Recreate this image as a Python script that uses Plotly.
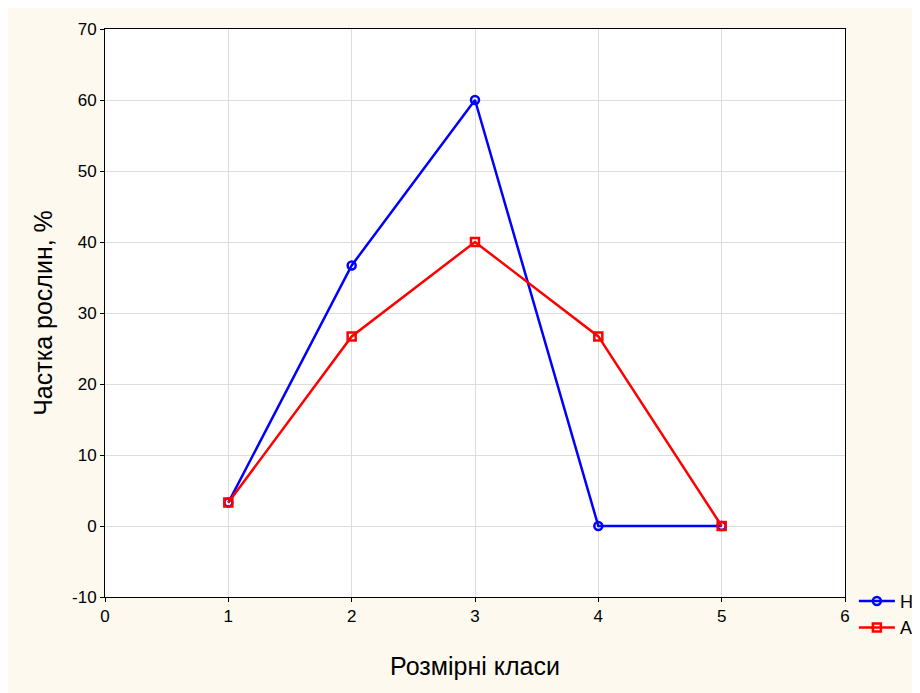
import plotly.graph_objects as go

classes = [1, 2, 3, 4, 5]
h_values = [3.3, 36.7, 60.0, 0.0, 0.0]
a_values = [3.3, 26.7, 40.0, 26.7, 0.0]
series_names = ["H", "A"]
x_ticks = [0, 1, 2, 3, 4, 5, 6]
y_ticks = [-10, 0, 10, 20, 30, 40, 50, 60, 70]
y_tick_labels = ["-10", "0", "10", "20", "30", "40", "50", "60", "70"]

font_family = "Liberation Sans, Arial, sans-serif"

fig = go.Figure()
fig.add_trace(go.Scatter(
    x=classes, y=h_values, name=series_names[0], mode="lines+markers",
    line=dict(color="#0000FF", width=2.5),
    marker=dict(symbol="circle-open", size=8, color="#0000FF", line=dict(width=2.5)),
))
fig.add_trace(go.Scatter(
    x=classes, y=a_values, name=series_names[1], mode="lines+markers",
    line=dict(color="#FF0000", width=2.5),
    marker=dict(symbol="square-open", size=8, color="#FF0000", line=dict(width=2.5)),
))

axis_common = dict(
    showgrid=True, gridcolor="#DDDDDD", gridwidth=1,
    zeroline=False, showline=True, linecolor="#000000", linewidth=1,
    mirror=True, ticks="outside", ticklen=4, tickcolor="#000000",
    tickfont=dict(family=font_family, size=17, color="#000000"),
)

fig.update_xaxes(range=[0, 6], tickvals=x_ticks,
                 title=dict(text="Розмірні класи", font=dict(family=font_family, size=25, color="#000000"), standoff=32),
                 **axis_common)
fig.update_yaxes(range=[-10, 70], tickvals=y_ticks, ticktext=y_tick_labels,
                 title=dict(text="Частка рослин, %", font=dict(family=font_family, size=25, color="#000000"), standoff=12),
                 **axis_common)

fig.update_layout(
    width=912, height=685,
    margin=dict(l=97, r=75, t=21, b=96, autoexpand=False),
    paper_bgcolor="#FDF9EF", plot_bgcolor="#FFFFFF",
    font=dict(family=font_family, size=17, color="#000000"),
    legend=dict(x=1.012, xanchor="left", y=0.025, yanchor="top",
                font=dict(family=font_family, size=18, color="#000000"),
                bgcolor="rgba(0,0,0,0)", tracegroupgap=0, itemwidth=36),
    showlegend=True,
)

fig.write_html("out.html")
